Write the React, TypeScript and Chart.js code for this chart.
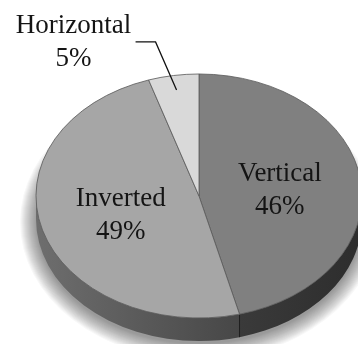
import React, { useEffect, useRef } from "react";
import { Chart, registerables } from "chart.js";

Chart.register(...registerables);

const LABELS = ["Vertical", "Inverted", "Horizontal"];
const VALUES = [46, 49, 5];
const TOP_COLORS = ["#808080", "#a6a6a6", "#d9d9d9"];
// side wall gradient stops, left to right
const SIDE_COLORS: [string, string][] = [
  ["#3a3a3a", "#2d2d2d"],
  ["#6e6e6e", "#474747"],
  ["#c4c4c4", "#a8a8a8"],
];

const W = 358;
const H = 344;

// tilted disc geometry on screen
const DISC = { cx: 199, cy: 196, rx: 163, ry: 122, depth: 23 };
const FONT = '27px "Liberation Serif", "Times New Roman", serif';
const LINE_GAP = 33;

type ArcGeom = { startAngle: number; endAngle: number; x: number; y: number; outerRadius: number };

function arcsOf(chart: any): ArcGeom[] {
  const meta = chart.getDatasetMeta(0);
  return meta.data.map((el: any) =>
    el.getProps(["startAngle", "endAngle", "x", "y", "outerRadius"], true)
  );
}

function ePoint(angle: number, frac: number, dy = 0) {
  return {
    x: DISC.cx + Math.cos(angle) * DISC.rx * frac,
    y: DISC.cy + dy + Math.sin(angle) * DISC.ry * frac,
  };
}

const pie3d = {
  id: "pie3d",
  beforeDatasetsDraw(chart: any) {
    const ctx: CanvasRenderingContext2D = chart.ctx;
    const { cx, cy, rx, ry, depth } = DISC;
    const arcs = arcsOf(chart);

    // soft drop shadow cast by the base of the disc, built from stacked halos
    ctx.save();
    ctx.fillStyle = "rgba(0,0,0,0.03)";
    for (let k = 16; k >= 0; k--) {
      ctx.beginPath();
      ctx.ellipse(cx, cy + depth + 3, rx + k, ry + k, 0, 0, Math.PI * 2);
      ctx.fill();
    }
    ctx.restore();

    // side walls of the front half
    const norm = (a: number) => {
      let v = a % (2 * Math.PI);
      if (v < -Math.PI / 2 - 1e-9) v += 2 * Math.PI;
      return v;
    };
    arcs.forEach((arc, i) => {
      const s = arc.startAngle;
      const e = arc.endAngle;
      const ranges: [number, number][] = [];
      for (const shift of [0, 2 * Math.PI, -2 * Math.PI]) {
        const a = Math.max(s + shift, 0);
        const b = Math.min(e + shift, Math.PI);
        if (b > a) ranges.push([a, b]);
      }
      ranges.forEach(([a, b]) => {
        const pa = ePoint(a, 1);
        const pb = ePoint(b, 1);
        const xs = [pa.x, pb.x];
        if (b > Math.PI - 1e-6) xs.push(cx - rx);
        if (a <= 1e-6) xs.push(cx + rx);
        const x0 = Math.min(...xs);
        const x1 = Math.max(...xs);
        const g = ctx.createLinearGradient(x0, 0, x1, 0);
        g.addColorStop(0, SIDE_COLORS[i][0]);
        g.addColorStop(1, SIDE_COLORS[i][1]);
        ctx.save();
        ctx.fillStyle = g;
        ctx.beginPath();
        ctx.moveTo(pa.x, pa.y);
        ctx.ellipse(cx, cy, rx, ry, 0, a, b, false);
        ctx.lineTo(pb.x, pb.y + depth);
        ctx.ellipse(cx, cy + depth, rx, ry, 0, b, a, true);
        ctx.closePath();
        ctx.fill();
        ctx.restore();
      });
      // seam where a slice boundary meets the front wall
      const sa = norm(s);
      if (sa > 0.02 && sa < Math.PI - 0.02) {
        const p = ePoint(sa, 1);
        ctx.save();
        ctx.strokeStyle = "#1e1e1e";
        ctx.lineWidth = 1;
        ctx.beginPath();
        ctx.moveTo(p.x, p.y);
        ctx.lineTo(p.x, p.y + depth);
        ctx.stroke();
        ctx.restore();
      }
    });

    // squash the library's circular pie onto the tilted top face
    const a0 = arcs[0];
    ctx.save();
    ctx.translate(cx, cy);
    ctx.scale(rx / a0.outerRadius, ry / a0.outerRadius);
    ctx.translate(-a0.x, -a0.y);
  },
  afterDatasetsDraw(chart: any) {
    const ctx: CanvasRenderingContext2D = chart.ctx;
    ctx.restore();

    const arcs = arcsOf(chart);
    const total = VALUES.reduce((a, b) => a + b, 0);
    ctx.save();
    ctx.font = FONT;
    ctx.fillStyle = "#141414";
    ctx.textAlign = "center";
    ctx.textBaseline = "alphabetic";
    arcs.forEach((arc, i) => {
      const mid = (arc.startAngle + arc.endAngle) / 2;
      const lines = [LABELS[i], `${VALUES[i]}%`];
      if (VALUES[i] / total >= 0.1) {
        const p = ePoint(mid, 0.5);
        ctx.fillText(lines[0], p.x, p.y - 7.5);
        ctx.fillText(lines[1], p.x, p.y - 7.5 + LINE_GAP);
      } else {
        // callout with a leader line for thin slices
        const tip = ePoint(mid, 0.88);
        const elbow = { x: tip.x - 21, y: tip.y - 48 };
        const end = { x: elbow.x - 20, y: elbow.y };
        ctx.save();
        ctx.strokeStyle = "#111";
        ctx.lineWidth = 1.3;
        ctx.beginPath();
        ctx.moveTo(tip.x, tip.y);
        ctx.lineTo(elbow.x, elbow.y);
        ctx.lineTo(end.x, end.y);
        ctx.stroke();
        ctx.restore();
        const tx = end.x - 62;
        ctx.fillText(lines[0], tx, elbow.y - 8.5);
        ctx.fillText(lines[1], tx, elbow.y - 8.5 + LINE_GAP);
      }
    });
    ctx.restore();
  },
};

export default function App() {
  const ref = useRef<HTMLCanvasElement | null>(null);
  useEffect(() => {
    if (!ref.current) return;
    const chart = new Chart(ref.current, {
      type: "pie",
      data: {
        labels: LABELS,
        datasets: [
          {
            data: VALUES,
            backgroundColor: TOP_COLORS,
            borderColor: "#5c5c5c",
            borderWidth: 1,
            clip: false,
          } as any,
        ],
      },
      options: {
        responsive: false,
        animation: false,
        layout: { padding: 0 },
        plugins: {
          legend: { display: false },
          tooltip: { enabled: false },
        },
      },
      plugins: [pie3d as any],
    });
    return () => chart.destroy();
  }, []);
  return (
    <div style={{ position: "absolute", left: 0, top: 0, width: W, height: H, overflow: "hidden", background: "#fff" }}>
      <canvas ref={ref} width={W} height={H} style={{ display: "block" }} />
    </div>
  );
}
